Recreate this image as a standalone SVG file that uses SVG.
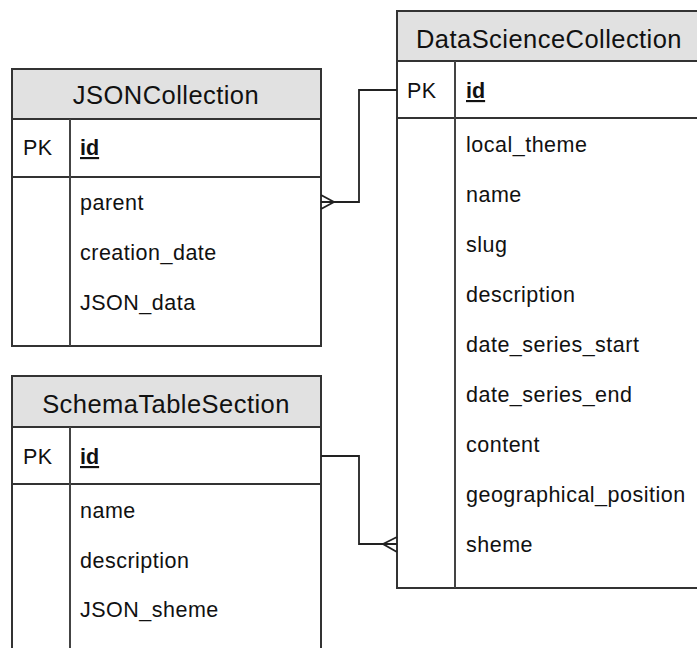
<svg xmlns="http://www.w3.org/2000/svg" width="697" height="648" viewBox="0 0 697 648">
<style>
.box{fill:#fff;stroke:#333;stroke-width:2}
.hdr{fill:#e1e1e1;stroke:#333;stroke-width:2}
.sep{stroke:#333;stroke-width:2}
.div{stroke:#444;stroke-width:2}
.t{font-family:"Liberation Sans",Arial,sans-serif;fill:#111}
.ttl{font-size:25.5px;letter-spacing:0.45px;text-anchor:middle}
.f{font-size:21.5px;letter-spacing:0.5px}
.pk{font-size:21.5px;font-weight:bold;text-decoration:underline}
.con{fill:none;stroke:#222;stroke-width:1.8}
</style>
<rect width="697" height="648" fill="#fff"/>
<g id="JSONCollection">
<rect class="box" x="12" y="69" width="309" height="277"/>
<rect class="hdr" x="12" y="69" width="309" height="50"/>
<line class="sep" x1="12" y1="177" x2="321" y2="177"/>
<line class="div" x1="70" y1="119" x2="70" y2="346"/>
<text class="t ttl" x="166" y="104">JSONCollection</text>
<text class="t f" x="23" y="155">PK</text>
<text class="t pk" x="80" y="155">id</text>
<text class="t f" x="80" y="210">parent</text>
<text class="t f" x="80" y="260">creation_date</text>
<text class="t f" x="80" y="310">JSON_data</text>
</g>
<g id="SchemaTableSection">
<rect class="box" x="12" y="376" width="309" height="290"/>
<rect class="hdr" x="12" y="376" width="309" height="51"/>
<line class="sep" x1="12" y1="484" x2="321" y2="484"/>
<line class="div" x1="70" y1="427" x2="70" y2="660"/>
<text class="t ttl" x="166" y="413">SchemaTableSection</text>
<text class="t f" x="23" y="464">PK</text>
<text class="t pk" x="80" y="464">id</text>
<text class="t f" x="80" y="518">name</text>
<text class="t f" x="80" y="568">description</text>
<text class="t f" x="80" y="617">JSON_sheme</text>
</g>
<g id="DataScienceCollection">
<rect class="box" x="397" y="11" width="302" height="577"/>
<rect class="hdr" x="397" y="11" width="302" height="50"/>
<line class="sep" x1="397" y1="118" x2="699" y2="118"/>
<line class="div" x1="455" y1="61" x2="455" y2="588"/>
<text class="t ttl" x="549" y="48">DataScienceCollection</text>
<text class="t f" x="407" y="98">PK</text>
<text class="t pk" x="466" y="98">id</text>
<text class="t f" x="466" y="152">local_theme</text>
<text class="t f" x="466" y="202">name</text>
<text class="t f" x="466" y="252">slug</text>
<text class="t f" x="466" y="302">description</text>
<text class="t f" x="466" y="352">date_series_start</text>
<text class="t f" x="466" y="402">date_series_end</text>
<text class="t f" x="466" y="452">content</text>
<text class="t f" x="466" y="502">geographical_position</text>
<text class="t f" x="466" y="552">sheme</text>
</g>
<g id="connectors">
<path class="con" d="M397 90 H359 V202 H321"/>
<path class="con" d="M321 195 L334 202 L321 209"/>
<path class="con" d="M321 456 H359 V544 H397"/>
<path class="con" d="M397 537 L383 544 L397 552"/>
</g>
</svg>
